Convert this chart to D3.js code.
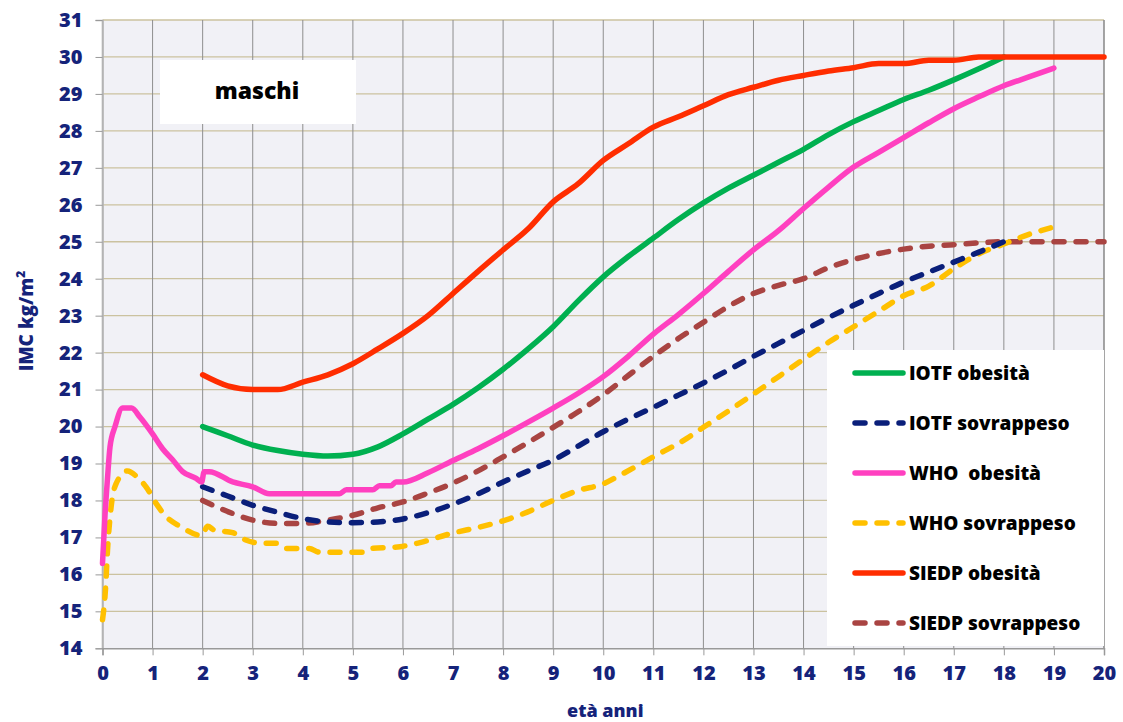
<!DOCTYPE html>
<html><head><meta charset="utf-8">
<script src="https://cdn.jsdelivr.net/npm/d3@7"></script>
<style>
html,body{margin:0;padding:0;background:#fff;}
svg{display:block;font-family:"Open Sans","Noto Sans",sans-serif;}
</style></head>
<body>
<svg id="chart" width="1123" height="722"></svg>
<script>
// ---- data ----
const xTicks = d3.range(0, 21);
const yTicks = d3.range(14, 32);
const xTitle = "età anni";
const yTitle = "IMC kg/m";
const panelLabel = "maschi";

const seriesNames = ["IOTF obesità","IOTF sovrappeso","WHO  obesità","WHO sovrappeso","SIEDP obesità","SIEDP sovrappeso"];

const iotfObAge = [2,2.5,3,3.5,4,4.5,5,5.5,6,6.5,7,7.5,8,8.5,9,9.5,10,10.5,11,11.5,12,12.5,13,13.5,14,14.5,15,15.5,16,16.5,17,17.5,18];
const iotfObVal = [20.0,19.75,19.5,19.35,19.25,19.2,19.25,19.45,19.8,20.2,20.6,21.05,21.55,22.1,22.7,23.4,24.05,24.6,25.1,25.6,26.05,26.45,26.8,27.15,27.5,27.9,28.25,28.55,28.85,29.1,29.38,29.68,30.0];

const iotfOwAge = [2,2.5,3,3.5,4,4.5,5,5.5,6,6.5,7,7.5,8,8.5,9,9.5,10,10.5,11,11.5,12,12.5,13,13.5,14,14.5,15,15.5,16,16.5,17,17.5,18];
const iotfOwVal = [18.37,18.12,17.87,17.68,17.51,17.42,17.4,17.42,17.5,17.67,17.9,18.18,18.5,18.8,19.09,19.47,19.86,20.2,20.52,20.85,21.18,21.53,21.9,22.25,22.6,22.95,23.28,23.6,23.91,24.18,24.45,24.72,25.0];

const whoObAge = [0,0.05,0.1,0.15,0.25,0.4,0.58,0.75,1.0,1.2,1.4,1.6,1.87,1.98,2.03,2.13,2.6,3.0,3.33,4.73,4.87,5.4,5.53,5.76,5.86,6,6.5,7,7.5,8,8.5,9,9.5,10,10.5,11,11.5,12,12.5,13,13.5,14,14.5,15,15.5,16,16.5,17,17.5,18,18.5,19];
const whoObVal = [16.3,17.6,18.6,19.45,20.0,20.5,20.5,20.25,19.8,19.4,19.1,18.78,18.6,18.5,18.78,18.78,18.5,18.37,18.18,18.18,18.29,18.29,18.4,18.4,18.5,18.5,18.75,19.08,19.4,19.75,20.12,20.5,20.9,21.35,21.9,22.5,23.03,23.6,24.2,24.78,25.3,25.9,26.48,27.02,27.42,27.82,28.22,28.6,28.92,29.22,29.46,29.7];

const whoOwAge = [0,0.06,0.1,0.17,0.27,0.5,0.68,0.88,1.08,1.28,1.55,1.98,2.1,2.23,2.6,2.86,3.2,3.47,3.66,4.13,4.33,5.2,5.34,5.94,6.34,7,7.5,8,8.4,9,9.5,10,10.33,11,11.67,12,12.5,13,13.5,14,14.5,15,15.5,16,16.5,17,17.5,18,18.5,19];
const whoOwVal = [14.77,15.6,16.65,17.8,18.45,18.8,18.65,18.35,17.9,17.55,17.3,17.05,17.3,17.2,17.13,16.93,16.84,16.84,16.7,16.7,16.6,16.6,16.7,16.75,16.86,17.12,17.27,17.45,17.64,18.0,18.27,18.45,18.68,19.18,19.68,19.98,20.42,20.88,21.35,21.82,22.28,22.7,23.12,23.54,23.8,24.27,24.67,24.94,25.2,25.4];

const siedpObAge = [2,2.5,3,3.5,4,4.5,5,5.5,6,6.5,7,7.5,8,8.5,9,9.5,10,10.5,11,11.5,12,12.5,13,13.5,14,14.5,15,15.5,16,16.5,17,17.5,18,19,20];
const siedpObVal = [21.4,21.1,21.0,21.0,21.2,21.4,21.7,22.1,22.52,23.0,23.6,24.2,24.78,25.35,26.08,26.57,27.2,27.65,28.1,28.38,28.68,28.98,29.18,29.37,29.5,29.62,29.71,29.82,29.82,29.91,29.91,30.0,30.0,30.0,30.0];

const siedpOwAge = [2,2.5,3,3.5,4,4.5,5,5.5,6,6.5,7,7.5,8,8.5,9,9.5,10,10.5,11,11.5,12,12.5,13,13.5,14,14.5,15,15.5,16,16.5,17,17.5,18,19,20];
const siedpOwVal = [18.0,17.7,17.47,17.38,17.38,17.47,17.6,17.8,17.96,18.2,18.47,18.8,19.18,19.57,19.98,20.4,20.86,21.38,21.9,22.38,22.82,23.25,23.6,23.82,24.0,24.3,24.52,24.68,24.8,24.88,24.92,24.97,25.0,25.0,25.0];

const seriesAges = [iotfObAge, iotfOwAge, whoObAge, whoOwAge, siedpObAge, siedpOwAge];
const seriesVals = [iotfObVal, iotfOwVal, whoObVal, whoOwVal, siedpObVal, siedpOwVal];
const seriesColors = ["#00b050","#0a1f7a","#ff40c0","#ffc000","#ff2d00","#a94442"];
const seriesDashed = [false,true,false,true,false,true];
// drawing order (as in reference)
const drawOrder = [5,3,1,2,0,4];

// ---- layout ----
const svg = d3.select("#chart");
const plot = {left:102.5, right:1104, top:20, bottom:648.3};
const x = d3.scaleLinear().domain([0,20]).range([plot.left, plot.right]);
const y = d3.scaleLinear().domain([14,31]).range([plot.bottom, plot.top]);
const navy = "#15237a";

// background
svg.append("rect").attr("x",plot.left).attr("y",plot.top)
  .attr("width",plot.right-plot.left).attr("height",plot.bottom-plot.top)
  .attr("fill","#f1f1f6");

// horizontal gridlines
svg.append("g").selectAll("line").data(yTicks.filter(d=>d>14)).join("line")
  .attr("x1",plot.left).attr("x2",plot.right)
  .attr("y1",d=>y(d)).attr("y2",d=>y(d))
  .attr("stroke","#cbc29f").attr("stroke-width",1.3);

// vertical gridlines
svg.append("g").selectAll("line").data(xTicks).join("line")
  .attr("x1",d=>x(d)).attr("x2",d=>x(d))
  .attr("y1",plot.top).attr("y2",plot.bottom)
  .attr("stroke",d=> d===0 ? "#b4b4b4" : "#8e8e8e").attr("stroke-width",d=>d===0||d===20?1.6:1);

// axes
const yAxis = d3.axisLeft(y).tickValues(yTicks).tickSize(7).tickPadding(13).tickFormat(d3.format("d"));
const gy = svg.append("g").attr("transform",`translate(${plot.left},0)`).call(yAxis);
gy.select(".domain").attr("stroke","#b4b4b4").attr("stroke-width",1.5);
gy.selectAll(".tick line").attr("stroke","#999");
gy.selectAll(".tick text").attr("fill",navy).style("font-size","20px").style("font-weight","800").attr("font-family","Open Sans");

const xAxis = d3.axisBottom(x).tickValues(xTicks).tickSize(7).tickPadding(11).tickFormat(d3.format("d"));
const gx = svg.append("g").attr("transform",`translate(0,${plot.bottom})`).call(xAxis);
gx.select(".domain").attr("stroke","#999").attr("stroke-width",1.5);
gx.selectAll(".tick line").attr("stroke","#999");
gx.selectAll(".tick text").attr("fill",navy).style("font-size","20px").style("font-weight","800").attr("font-family","Open Sans");

// axis titles
svg.append("text").attr("x",(plot.left+plot.right)/2 + 2).attr("y",717)
  .attr("text-anchor","middle").attr("fill",navy)
  .style("font-size","18px").style("font-weight","800").text(xTitle);

const yt = svg.append("text").attr("transform","translate(33,321) rotate(-90)")
  .attr("text-anchor","middle").attr("fill",navy)
  .style("font-size","19px").style("font-weight","800");
yt.append("tspan").text(yTitle);
yt.append("tspan").attr("dy",-8).style("font-size","12px").text("2");

// lines
const line = d3.line().x(d=>x(d[0])).y(d=>y(d[1])).curve(d3.curveMonotoneX);
const gl = svg.append("g");
drawOrder.forEach(i=>{
  const pts = seriesAges[i].map((a,k)=>[a, seriesVals[i][k]]);
  gl.append("path").datum(pts).attr("d",line)
    .attr("fill","none").attr("stroke",seriesColors[i])
    .attr("stroke-width",5.5).attr("stroke-linejoin","round")
    .attr("stroke-linecap","round")
    .attr("stroke-dasharray",seriesDashed[i] ? "10,12" : null);
});

// panel label box
svg.append("rect").attr("x",160).attr("y",60).attr("width",196).attr("height",64).attr("fill","#fff");
svg.append("text").attr("x",257).attr("y",99).attr("text-anchor","middle")
  .attr("fill","#000").style("font-size","23px").style("font-weight","800").text(panelLabel);

// legend
const lg = svg.append("g");
lg.append("rect").attr("x",827).attr("y",350).attr("width",277).attr("height",296).attr("fill","#fff");
seriesNames.forEach((name,i)=>{
  const yy = 373 + i*50;
  lg.append("line").attr("x1",855).attr("x2",903).attr("y1",yy).attr("y2",yy)
    .attr("stroke",seriesColors[i]).attr("stroke-width",5.5).attr("stroke-linecap","round")
    .attr("stroke-dasharray",seriesDashed[i] ? "10,12" : null);
  lg.append("text").attr("x",909).attr("y",yy+7).attr("fill","#000")
    .style("font-size","19px").style("font-weight","800").style("white-space","pre")
    .attr("xml:space","preserve").text(name);
});
</script>
</body></html>
